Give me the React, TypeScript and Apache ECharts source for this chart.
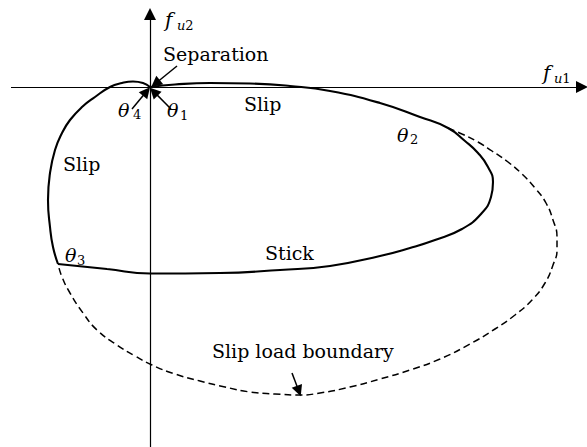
import { useEffect, useRef } from "react";
import * as echarts from "echarts";

type Pt = [number, number];

// Solid contour: origin -> upper slip zone -> theta2 -> round the right end -> stick zone -> theta3
const slipStickPath: Pt[] = [
  [0, 0], [25, 2.5], [60, 4], [100, 3.5], [140, 1], [180, -4], [230, -16], [270, -30],
  [298, -41], [315, -54], [328, -66], [338, -80], [343, -95], [341, -110], [331, -127],
  [312, -142], [285, -153], [260, -161], [230, -169], [180, -179], [130, -183], [70, -186],
  [0, -186.5], [-43, -182], [-92, -177],
];

// Solid contour: theta3 -> left slip zone -> small bump above the axis -> back to the origin
const leftSlipPath: Pt[] = [
  [-92, -177], [-97, -160], [-100, -140], [-102, -113], [-100, -86], [-95, -63], [-88, -46],
  [-80, -33], [-68, -20], [-55, -10], [-40, 0], [-28, 4], [-17, 5.5], [-7, 4], [0, 0],
];

// Dashed slip load boundary from theta2 round to theta3
const slipLoadBoundary: Pt[] = [
  [298, -41], [312, -47], [328, -55], [342, -64], [358, -75], [372, -87], [385, -101],
  [396, -116], [403, -133], [407, -150], [407, -163], [403, -178], [395, -196], [382, -213],
  [365, -228], [345, -242], [320, -257], [290, -272], [260, -283], [230, -292], [200, -300],
  [170, -306], [150, -308], [125, -307], [100, -305], [75, -300], [50, -294], [25, -287],
  [2, -278], [-15, -269], [-33, -258], [-53, -243], [-67, -226], [-80, -206], [-88, -190],
  [-92, -177],
];

// Coordinate axes f_u1 (horizontal) and f_u2 (vertical)
const axisU1: Pt[] = [[-139, 0], [432, 0]];
const axisU2: Pt[] = [[0, -360], [0, 73]];

// Pointer arrows: tail -> head
const pointers: Pt[][] = [
  [[27, 21], [5.5, 3.5]],
  [[-18, -22], [-3.5, -4.5]],
  [[21, -22], [3.8, -4.6]],
  [[142, -286], [148.8, -304]],
];

const plainLabels: { text: string; at: Pt }[] = [
  { text: "Separation", at: [13, 33] },
  { text: "Slip", at: [94, -16.5] },
  { text: "Slip", at: [-87, -77] },
  { text: "Stick", at: [115, -166] },
  { text: "Slip load boundary", at: [62, -264] },
];

const thetaLabels: { sub: string; at: Pt; subAt: Pt }[] = [
  { sub: "4", at: [-32, -23], subAt: [-17, -27] },
  { sub: "1", at: [17, -23], subAt: [30, -28.5] },
  { sub: "2", at: [247, -48], subAt: [260, -52.5] },
  { sub: "3", at: [-85, -168], subAt: [-73, -173.5] },
];

const axisNames: { sub: string; at: Pt; subAt: Pt }[] = [
  { sub: "2", at: [15, 67], subAt: [27, 62] },
  { sub: "1", at: [393, 14], subAt: [404, 8.5] },
];

const SERIF = "DejaVu Serif";

export default function App() {
  const ref = useRef<HTMLDivElement>(null);

  useEffect(() => {
    const chart = echarts.init(ref.current!, null, { renderer: "svg" });

    const curve = (data: Pt[], dashed: boolean, width: number) => ({
      type: "line",
      data,
      smooth: 0.5,
      symbol: "none",
      silent: true,
      lineStyle: { color: "#000", width, type: dashed ? [7, 4] : "solid" },
    });

    chart.setOption({
      animation: false,
      grid: { left: 0, right: 0, top: 0, bottom: 0 },
      xAxis: { type: "value", min: -150, max: 437, show: false },
      yAxis: { type: "value", min: -360, max: 87, show: false },
      series: [
        {
          type: "lines",
          coordinateSystem: "cartesian2d",
          silent: true,
          symbol: ["none", "triangle"],
          symbolSize: [8, 12],
          lineStyle: { color: "#000", width: 1.2, opacity: 1, curveness: 0 },
          data: [{ coords: axisU1 }, { coords: axisU2 }],
        },
        curve(slipStickPath, false, 2.1),
        curve(leftSlipPath, false, 2.1),
        curve(slipLoadBoundary, true, 1.5),
        {
          type: "lines",
          coordinateSystem: "cartesian2d",
          silent: true,
          symbol: ["none", "triangle"],
          symbolSize: [9, 11],
          lineStyle: { color: "#000", width: 1.5, opacity: 1, curveness: 0 },
          data: pointers.map((c) => ({ coords: c })),
        },
      ],
    });

    const px = (p: Pt) => chart.convertToPixel({ gridIndex: 0 }, p) as number[];
    const txt = (s: string, p: Pt, size: number, italic: boolean) => {
      const [x, y] = px(p);
      return {
        type: "text",
        x,
        y,
        silent: true,
        style: {
          text: s,
          fill: "#000",
          font: `${italic ? "italic " : ""}${size}px "${SERIF}"`,
          align: "left",
          verticalAlign: "middle",
        },
      };
    };

    const graphic: any[] = [];
    plainLabels.forEach((l) => graphic.push(txt(l.text, l.at, 19, false)));
    thetaLabels.forEach((l) => {
      graphic.push(txt("θ", l.at, 19, true));
      graphic.push(txt(l.sub, l.subAt, 13, false));
    });
    axisNames.forEach((l) => {
      graphic.push(txt("f", l.at, 20, true));
      const [x, y] = px(l.subAt);
      graphic.push({
        type: "text",
        x,
        y,
        silent: true,
        style: {
          text: `{u|u}{n|${l.sub}}`,
          align: "left",
          verticalAlign: "middle",
          rich: {
            u: { fontFamily: SERIF, fontStyle: "italic", fontSize: 13, fill: "#000" },
            n: { fontFamily: SERIF, fontSize: 13, fill: "#000" },
          },
        },
      });
    });
    chart.setOption({ graphic });

    return () => chart.dispose();
  }, []);

  return (
    <div
      ref={ref}
      style={{ position: "fixed", left: 0, top: 0, width: 587, height: 447, background: "#fff" }}
    />
  );
}
